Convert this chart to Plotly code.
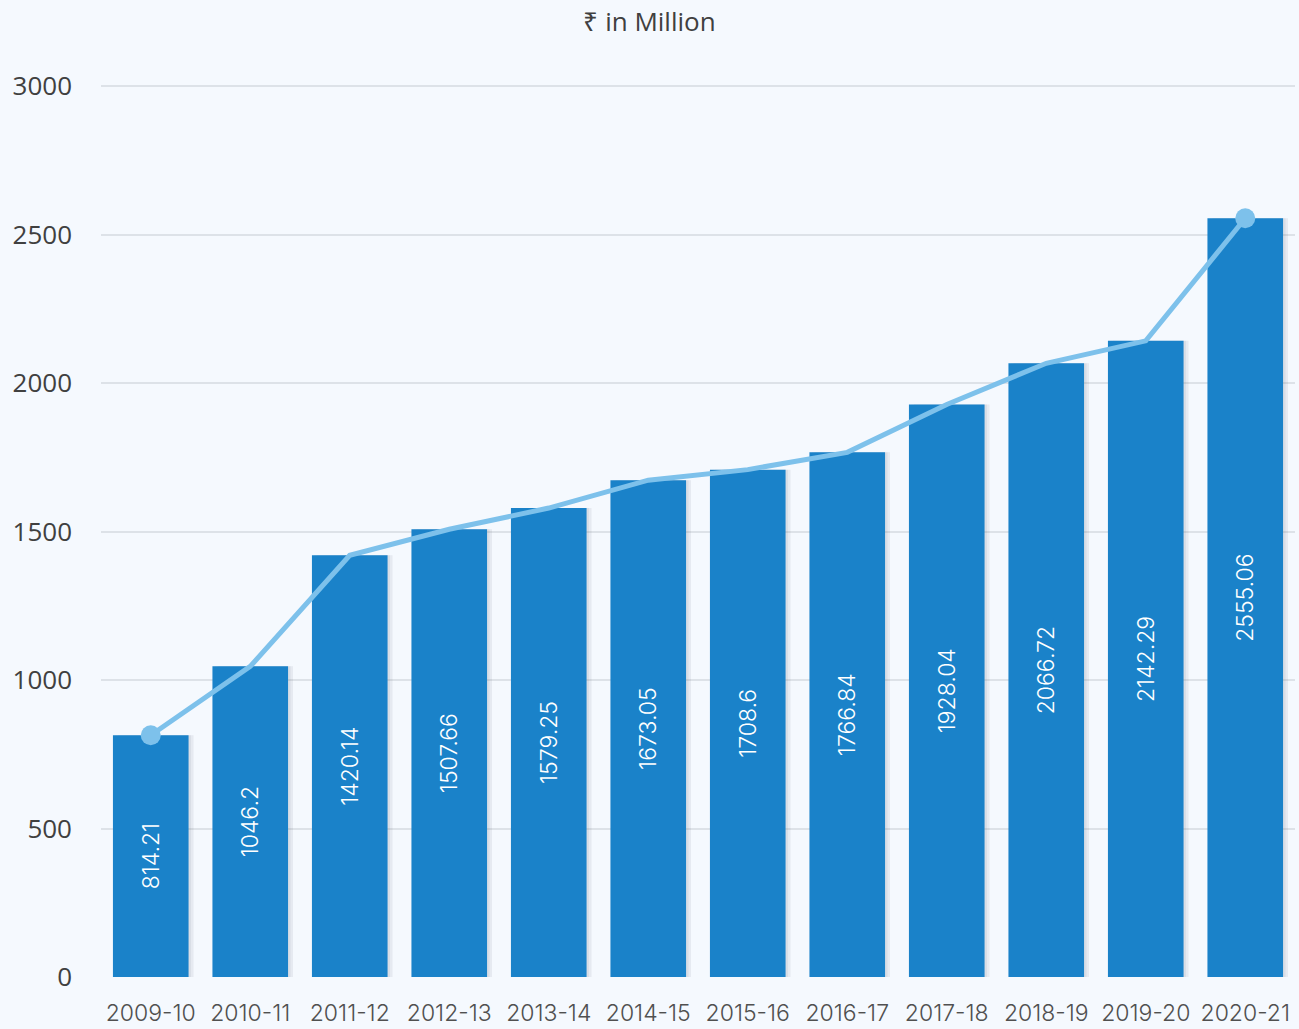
import plotly.graph_objects as go

years = ["2009-10", "2010-11", "2011-12", "2012-13", "2013-14", "2014-15",
         "2015-16", "2016-17", "2017-18", "2018-19", "2019-20", "2020-21"]
values = [814.21, 1046.2, 1420.14, 1507.66, 1579.25, 1673.05,
          1708.6, 1766.84, 1928.04, 2066.72, 2142.29, 2555.06]
value_labels = ["814.21", "1046.2", "1420.14", "1507.66", "1579.25", "1673.05",
                "1708.6", "1766.84", "1928.04", "2066.72", "2142.29", "2555.06"]
y_ticks = [0, 500, 1000, 1500, 2000, 2500, 3000]

BG = "#f5f9fe"
BAR = "#1a82c9"
LINE = "#7dc1eb"

fig = go.Figure()

# soft drop shadow behind each bar
fig.add_trace(go.Bar(
    x=years, y=values, width=0.76, offset=-0.33,
    marker=dict(color="rgba(60,70,90,0.08)", line=dict(width=0)),
    hoverinfo="skip", showlegend=False,
))
fig.add_trace(go.Bar(
    x=years, y=values, width=0.76, offset=-0.355,
    marker=dict(color="rgba(60,70,90,0.07)", line=dict(width=0)),
    hoverinfo="skip", showlegend=False,
))

# main bars with rotated value labels
fig.add_trace(go.Bar(
    x=years, y=values, width=0.76, offset=-0.38,
    marker=dict(color=BAR, line=dict(width=0)),
    text=value_labels, textposition="inside", insidetextanchor="middle",
    textangle=-90,
    textfont=dict(family="Inter, sans-serif", size=23, color="white", weight=300),
    showlegend=False,
))

# trend line, markers only at the ends
n = len(values)
fig.add_trace(go.Scatter(
    x=years, y=values, mode="lines+markers",
    line=dict(color=LINE, width=5),
    marker=dict(color=LINE, opacity=1, line=dict(width=0),
                size=[20] + [0] * (n - 2) + [20]),
    showlegend=False,
))

fig.update_layout(
    width=1299, height=1029,
    paper_bgcolor=BG, plot_bgcolor=BG,
    barmode="overlay",
    margin=dict(l=101, r=4, t=82, b=52),
    title=dict(text="₹ in Million", x=0.5, xanchor="center", y=0.979, yanchor="middle",
               font=dict(family="Open Sans, sans-serif", size=26, color="#404040")),
    xaxis=dict(
        type="category", range=[-0.5, 11.5], automargin=False,
        showgrid=False, zeroline=False, showline=False,
        tickfont=dict(family="Inter, sans-serif", size=23, color="#505050", weight=300),
        ticks="", ticklabelstandoff=20,
    ),
    yaxis=dict(
        range=[0, 3014], tickvals=y_ticks, automargin=False,
        showgrid=True, gridcolor="#dde2e8", gridwidth=1.5,
        zeroline=False, showline=False,
        tickfont=dict(family="Open Sans, sans-serif", size=26, color="#404040"),
        ticklabelstandoff=28,
    ),
)

fig.write_html("out.html")
